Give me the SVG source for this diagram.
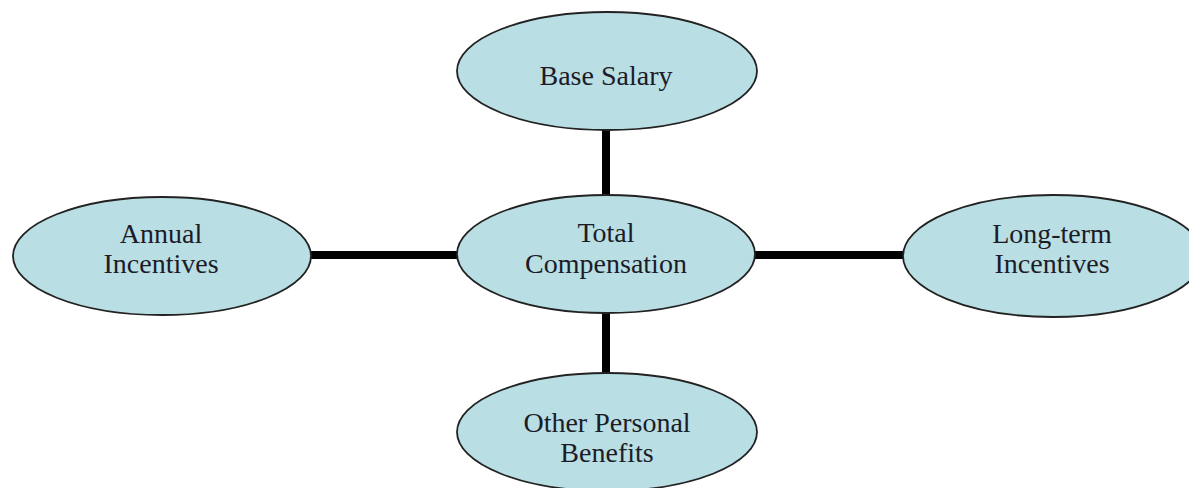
<svg xmlns="http://www.w3.org/2000/svg" width="1189" height="488" viewBox="0 0 1189 488">
<style>
.node ellipse{fill:#b9dee3;stroke:#222;stroke-width:1.8}
.node text{font-family:"Liberation Serif","Times New Roman",serif;font-size:28px;fill:#1c1c28;text-anchor:middle}
.conn line{stroke:#000;stroke-width:8}
</style>
<rect width="1189" height="488" fill="#fff"/>
<g class="conn" id="connectors">
<line x1="606" y1="128" x2="606" y2="197"/>
<line x1="606" y1="311" x2="606" y2="375"/>
<line x1="310" y1="255" x2="460" y2="255"/>
<line x1="753" y1="255" x2="905" y2="255"/>
</g>
<g class="node" id="base-salary">
<ellipse cx="607" cy="71" rx="150" ry="59"/>
<text x="606" y="85">Base Salary</text>
</g>
<g class="node" id="total-compensation">
<ellipse cx="606" cy="254" rx="149" ry="59"/>
<text x="606" y="242">Total</text>
<text x="606" y="273">Compensation</text>
</g>
<g class="node" id="annual-incentives">
<ellipse cx="162" cy="256" rx="149" ry="59"/>
<text x="161" y="243">Annual</text>
<text x="161" y="273">Incentives</text>
</g>
<g class="node" id="long-term-incentives">
<ellipse cx="1053" cy="256" rx="150" ry="61"/>
<text x="1052" y="243">Long-term</text>
<text x="1052" y="273">Incentives</text>
</g>
<g class="node" id="other-personal-benefits">
<ellipse cx="607" cy="432" rx="150" ry="59"/>
<text x="607" y="432">Other Personal</text>
<text x="607" y="462">Benefits</text>
</g>
</svg>
